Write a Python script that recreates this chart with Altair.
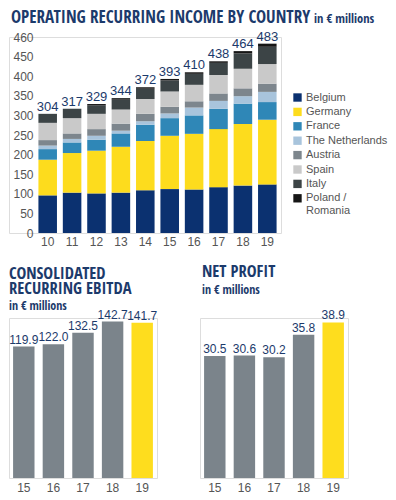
import altair as alt
import pandas as pd

# ---------------- data ----------------
years = ['10', '11', '12', '13', '14', '15', '16', '17', '18', '19']
countries = ['Belgium', 'Germany', 'France', 'The Netherlands', 'Austria',
             'Spain', 'Italy', 'Poland / Romania']
belgium = [96, 103, 101, 103, 109, 112, 111, 117, 121, 124]
germany = [91, 101, 109, 117, 126, 136, 142, 148, 157, 165]
france = [27, 27, 28, 34, 41, 45, 47, 52, 52, 45]
netherlands = [9, 9, 10, 7, 9, 12, 20, 20, 19, 26]
austria = [14, 14, 17, 18, 19, 17, 16, 19, 20, 21]
spain = [44, 39, 39, 36, 38, 39, 42, 47, 50, 50]
italy = [23, 24, 22, 25, 26, 28, 28, 31, 39, 44]
poland = [0, 0, 3, 4, 4, 4, 4, 4, 6, 8]
country_colors = ['#0b3170', '#fddc1d', '#2f87b7', '#a8c4dc', '#7d868d',
                  '#c9c9c9', '#3c4446', '#161616']
y_tick_values = [0, 50, 100, 150, 200, 250, 300, 350, 400, 450, 500]

small_years = ['15', '16', '17', '18', '19']
ebitda = [119.9, 122.0, 132.5, 142.7, 141.7]
net_profit = [30.5, 30.6, 30.2, 35.8, 38.9]

NAVY = '#1c3a6b'
LABEL = '#555555'
TFONT = "'Open Sans Condensed', 'Roboto Condensed', sans-serif"
FONT = 'Liberation Sans'

series = [belgium, germany, france, netherlands, austria, spain, italy, poland]
rows = []
for ci, (c, vals) in enumerate(zip(countries, series)):
    for y, v in zip(years, vals):
        rows.append({'year': y, 'country': c, 'idx': ci, 'value': v})
df_top = pd.DataFrame(rows)
one = pd.DataFrame({'k': [0]})

# ---------------- top chart ----------------
x_axis_top = alt.Axis(title=None, domain=False, ticks=False, labelAngle=0,
                      labelPadding=3, labelFontSize=12, labelColor=LABEL,
                      labelFont=FONT)
y_axis_top = alt.Axis(title=None, values=y_tick_values, domain=False, ticks=False,
                      grid=False, offset=-27, labelPadding=3, labelFontSize=12,
                      labelColor=LABEL, labelFont=FONT, labelOverlap=False,
                      labelFlush=False,
                      labelExpr="datum.value == 500 ? '460' : datum.label")
x_scale_top = alt.Scale(range=[26, 271], paddingInner=0.24, paddingOuter=0.14)
y_scale_top = alt.Scale(domain=[0, 500], nice=False)

bars = alt.Chart(df_top).mark_bar().encode(
    x=alt.X('year:N', sort=years, scale=x_scale_top, axis=x_axis_top),
    y=alt.Y('value:Q', stack='zero', scale=y_scale_top, axis=y_axis_top),
    color=alt.Color('country:N',
                    scale=alt.Scale(domain=countries, range=country_colors),
                    legend=alt.Legend(title=None, orient='none', legendX=283, legendY=55,
                                      symbolType='square', symbolSize=70,
                                      symbolStrokeWidth=0, labelFontSize=11,
                                      labelColor=LABEL, labelFont=FONT, rowPadding=2.4,
                                      labelOffset=3, labelLimit=120,
                                      labelExpr="datum.label == 'Poland / Romania' ? ['Poland /', 'Romania'] : datum.label")),
    order=alt.Order('idx:Q', sort='ascending'),
)

totals = alt.Chart(df_top).transform_aggregate(
    value='sum(value)', groupby=['year']
).mark_text(baseline='alphabetic', dy=-3, fontSize=13, color=NAVY, font=FONT).encode(
    x=alt.X('year:N', sort=years, scale=x_scale_top, axis=x_axis_top),
    y=alt.Y('value:Q', scale=y_scale_top, axis=y_axis_top),
    text=alt.Text('value:Q'),
)

top_title = alt.Chart(one).mark_text(
    align='left', baseline='alphabetic', font=TFONT, fontSize=17, fontWeight='bold',
    color=NAVY
).encode(x=alt.value(2), y=alt.value(-14.5),
         text=alt.value('OPERATING RECURRING INCOME BY COUNTRY'))

top_sub = alt.Chart(one).mark_text(
    align='left', baseline='alphabetic', font=TFONT, fontSize=12.5, fontWeight='bold',
    color=NAVY
).encode(x=alt.value(305), y=alt.value(-14.5), text=alt.value('in € millions'))

top = alt.layer(bars, totals, top_title, top_sub).properties(width=272, height=196)


# ---------------- bottom charts ----------------
x_axis_small = alt.Axis(title=None, domain=False, ticks=False, labelAngle=0,
                        labelPadding=4, labelFontSize=12, labelColor=LABEL,
                        labelFont=FONT)


def small_chart(values, dmax, title_lines, title_y, sub_y, title_x):
    d = pd.DataFrame({'year': small_years, 'value': values})
    xs = alt.Scale(paddingInner=0.276, paddingOuter=0.138)
    ys = alt.Scale(domain=[0, dmax], nice=False)
    b = alt.Chart(d).mark_bar().encode(
        x=alt.X('year:N', sort=small_years, scale=xs, axis=x_axis_small),
        y=alt.Y('value:Q', scale=ys, axis=None),
        color=alt.condition(alt.datum.year == '19', alt.value('#fedd1e'),
                            alt.value('#7b848b')),
    )
    t = alt.Chart(d).mark_text(baseline='alphabetic', dy=-3, fontSize=12, color=NAVY,
                               font=FONT).encode(
        x=alt.X('year:N', sort=small_years, scale=xs, axis=x_axis_small),
        y=alt.Y('value:Q', scale=ys, axis=None),
        text=alt.Text('value:Q', format='.1f'),
    )
    ttl = alt.Chart(one).mark_text(
        align='left', baseline='alphabetic', font=TFONT, fontSize=16.5, fontWeight='bold',
        color=NAVY, lineHeight=15
    ).encode(x=alt.value(title_x), y=alt.value(title_y), text=alt.value(title_lines))
    sub = alt.Chart(one).mark_text(
        align='left', baseline='alphabetic', font=TFONT, fontSize=12, fontWeight='bold',
        color=NAVY
    ).encode(x=alt.value(title_x), y=alt.value(sub_y), text=alt.value('in € millions'))
    return alt.layer(b, t, ttl, sub).properties(width=148, height=160)


left = small_chart(ebitda, 146, ['CONSOLIDATED', 'RECURRING EBITDA'], -39, -8, 0)
right = small_chart(net_profit, 40, ['NET PROFIT'], -41, -24, 2)

bottom = alt.hconcat(left, right, spacing=41)

chart = alt.vconcat(top, bottom, spacing=15).properties(padding=0).configure_view(
    stroke=None
).configure(font=FONT)

chart.save('out.html', embed_options={'renderer': 'svg', 'actions': False})
